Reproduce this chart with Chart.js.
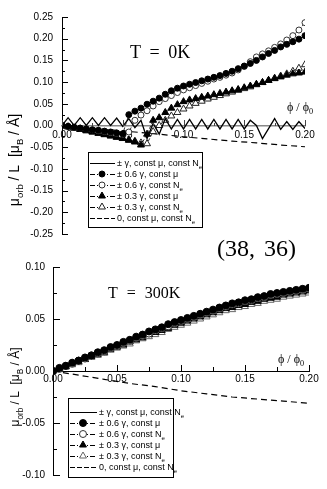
<!DOCTYPE html>
<html><head><meta charset="utf-8">
<script src="https://cdn.jsdelivr.net/npm/chart.js@4.4.1/dist/chart.umd.min.js"></script>
<style>
html,body{margin:0;padding:0;background:#fff;}
#wrap{position:relative;width:327px;height:489px;overflow:hidden;background:#fff;}
canvas{position:absolute;left:0;}
#c1{top:0;width:327px;height:265px;}
#c2{top:230px;width:327px;height:259px;}
</style></head><body>
<div id="wrap"><canvas id="c1" width="327" height="265"></canvas><canvas id="c2" width="327" height="259"></canvas></div>
<script>
// ---------- data ----------
const xFine = [0.000,0.005,0.010,0.015,0.020,0.025,0.030,0.035,0.040,0.045,0.050,0.055,0.060,0.065,0.070,0.075,0.080,0.085,0.090,0.095,0.100,0.105,0.110,0.115,0.120,0.125,0.130,0.135,0.140,0.145,0.150,0.155,0.160,0.165,0.170,0.175,0.180,0.185,0.190,0.195,0.200];
const xMid = [0.00,0.01,0.02,0.03,0.04,0.05,0.06,0.07,0.08,0.09,0.10,0.11,0.12,0.13,0.14,0.15,0.16,0.17,0.18,0.19,0.20];
const xCoarse = [0.00,0.02,0.04,0.06,0.08,0.10,0.12,0.14,0.16,0.18,0.20];

// T = 0K panel
const top_gamma_solid = [0.000,0.018,0.000,0.018,0.000,0.018,0.000,0.018,0.000,0.017,-0.002,0.016,-0.005,0.012,-0.030,0.005,-0.020,0.016,-0.008,0.014,-0.008,0.014,-0.008,0.014,-0.008,0.014,-0.008,0.014,-0.008,0.014,-0.008,0.012,0.000,-0.030,-0.007,0.016,-0.009,0.009,-0.009,0.009,-0.007];
const top_06_mu = [0.000,-0.002,-0.004,-0.006,-0.008,-0.010,-0.011,-0.013,-0.015,-0.017,-0.019,0.025,0.033,0.040,0.049,0.056,0.063,0.072,0.080,0.086,0.091,0.095,0.099,0.103,0.107,0.111,0.115,0.120,0.125,0.131,0.137,0.143,0.150,0.158,0.166,0.173,0.181,0.187,0.193,0.199,0.207];
const top_06_Ne = [0.000,-0.002,-0.004,-0.006,-0.008,-0.010,-0.012,-0.014,-0.016,-0.018,-0.020,-0.015,0.012,0.024,0.034,0.045,0.055,0.062,0.069,0.076,0.082,0.087,0.092,0.097,0.102,0.107,0.111,0.116,0.121,0.128,0.136,0.147,0.158,0.165,0.172,0.180,0.188,0.197,0.207,0.220,0.237];
const top_03_mu = [0.000,-0.003,-0.006,-0.009,-0.012,-0.015,-0.018,-0.021,-0.024,-0.027,-0.030,-0.034,-0.038,-0.045,-0.020,0.012,0.018,0.030,0.040,0.048,0.055,0.059,0.062,0.065,0.068,0.071,0.074,0.077,0.080,0.083,0.087,0.091,0.095,0.099,0.104,0.108,0.112,0.116,0.119,0.121,0.123];
const top_03_Ne = [0.000,-0.003,-0.006,-0.009,-0.012,-0.015,-0.018,-0.021,-0.024,-0.027,-0.030,-0.033,-0.036,-0.040,-0.042,-0.014,0.000,0.012,0.022,0.030,0.038,0.045,0.051,0.056,0.061,0.065,0.069,0.073,0.077,0.081,0.085,0.089,0.094,0.099,0.104,0.109,0.114,0.119,0.125,0.132,0.140];
const top_zero = [0.000,-0.005,-0.010,-0.015,-0.020,-0.026,-0.031,-0.036,-0.040,-0.045,-0.049];

// T = 300K panel
const bot_gamma_solid = [0.000,0.004,0.009,0.014,0.019,0.024,0.029,0.033,0.038,0.043,0.047,0.051,0.055,0.059,0.063,0.066,0.069,0.072,0.074,0.076,0.078];
const bot_06_mu = [0.000,0.003,0.005,0.008,0.010,0.013,0.015,0.018,0.020,0.023,0.025,0.028,0.030,0.033,0.035,0.038,0.040,0.042,0.045,0.047,0.049,0.051,0.053,0.055,0.057,0.059,0.061,0.063,0.065,0.066,0.068,0.069,0.071,0.072,0.074,0.075,0.076,0.077,0.078,0.079,0.080];
const bot_06_Ne = [0.000,0.002,0.005,0.007,0.010,0.012,0.015,0.017,0.019,0.022,0.024,0.027,0.029,0.032,0.034,0.036,0.039,0.041,0.043,0.046,0.048,0.050,0.052,0.054,0.056,0.058,0.060,0.062,0.064,0.065,0.067,0.068,0.070,0.071,0.073,0.074,0.075,0.076,0.077,0.078,0.079];
const bot_03_mu = [0.000,0.002,0.004,0.007,0.009,0.011,0.014,0.016,0.018,0.021,0.023,0.025,0.028,0.030,0.032,0.035,0.037,0.039,0.041,0.044,0.046,0.048,0.050,0.052,0.054,0.056,0.058,0.060,0.061,0.063,0.064,0.066,0.067,0.069,0.070,0.071,0.073,0.074,0.075,0.076,0.077];
const bot_03_Ne = [0.000,0.002,0.004,0.006,0.008,0.011,0.013,0.015,0.017,0.020,0.022,0.024,0.026,0.029,0.031,0.033,0.035,0.037,0.040,0.042,0.044,0.046,0.048,0.050,0.052,0.054,0.056,0.058,0.059,0.061,0.062,0.064,0.065,0.067,0.068,0.069,0.071,0.072,0.073,0.074,0.075];
const bot_zero = [0.000,-0.004,-0.008,-0.012,-0.015,-0.019,-0.022,-0.025,-0.027,-0.029,-0.031];

const xTickStep = 0.05;
const topYRange = [-0.25, 0.25];
const botYRange = [-0.10, 0.10];
const xRange = [0.00, 0.20];

const legendLabels = [
  [['\u00B1 \u03B3, const \u03BC, const N',0],['e',1]],
  [['\u00B1 0.6 \u03B3, const \u03BC',0]],
  [['\u00B1 0.6 \u03B3, const N',0],['e',1]],
  [['\u00B1 0.3 \u03B3, const \u03BC',0]],
  [['\u00B1 0.3 \u03B3, const N',0],['e',1]],
  [['0, const \u03BC, const N',0],['e',1]]
];
const yTitle = [['\u03BC',0],['orb',1],[' / L  [\u03BC',0],['B',1],[' / \u00C5]',0]];
const xTitle = [['\u03D5 / \u03D5',0],['0',1]];

// ---------- helpers ----------
const pts = (xs, ys) => ys.map((y, i) => ({x: xs[i], y}));
const fmt = v => (Math.abs(v) < 1e-9 ? 0 : v).toFixed(2);

function drawRich(ctx, tokens, x, y, o) {
  const sub = o.size * 0.68;
  const fm = `${o.weight||'normal'} ${o.size}px ${o.family}`;
  const fs = `${o.weight||'normal'} ${sub}px ${o.family}`;
  const hasWS = ('wordSpacing' in ctx);
  if (hasWS) ctx.wordSpacing = (o.ws||0) + 'px';
  let w = 0;
  tokens.forEach(([t,s]) => { ctx.font = s ? fs : fm; w += ctx.measureText(t).width; });
  let cx = o.align === 'center' ? x - w/2 : x;
  ctx.fillStyle = o.color || '#000';
  ctx.textAlign = 'left'; ctx.textBaseline = 'alphabetic';
  tokens.forEach(([t,s]) => {
    ctx.font = s ? fs : fm;
    ctx.fillText(t, cx, y + (s ? o.size*0.28 : 0));
    cx += ctx.measureText(t).width;
  });
  if (hasWS) ctx.wordSpacing = '0px';
}

function marker(ctx, style, r, x, y, fill, stroke) {
  ctx.save();
  ctx.beginPath();
  if (style === 'circle') ctx.arc(x, y, r, 0, Math.PI*2);
  else {
    let a = 0;
    ctx.moveTo(x + Math.sin(a)*r, y - Math.cos(a)*r); a += 2*Math.PI/3;
    ctx.lineTo(x + Math.sin(a)*r, y - Math.cos(a)*r); a += 2*Math.PI/3;
    ctx.lineTo(x + Math.sin(a)*r, y - Math.cos(a)*r);
    ctx.closePath();
  }
  ctx.fillStyle = fill; ctx.fill();
  ctx.lineWidth = 1; ctx.strokeStyle = stroke; ctx.stroke();
  ctx.restore();
}

const deco = {
  id: 'deco',
  afterDraw(chart, args, o) {
    const ctx = chart.ctx, ca = chart.chartArea;
    const xs = chart.scales.x, ys = chart.scales.y;
    ctx.save();
    ctx.strokeStyle = '#000'; ctx.lineWidth = 1;
    const yt = ys.ticks.map(t => t.value);
    ctx.beginPath();
    yt.forEach((v, i) => {
      const p = Math.round(ys.getPixelForValue(v)) + 0.5;
      ctx.moveTo(ca.left, p); ctx.lineTo(ca.left + o.yMajor, p);
      if (i < yt.length - 1) {
        const q = Math.round(ys.getPixelForValue((v + yt[i+1]) / 2)) + 0.5;
        ctx.moveTo(ca.left, q); ctx.lineTo(ca.left + o.yMinor, q);
      }
    });
    ctx.stroke();
    const y0 = Math.round(ys.getPixelForValue(0));
    const xt = xs.ticks.map(t => t.value);
    ctx.strokeStyle = o.xTickColor;
    ctx.beginPath();
    xt.forEach((v, i) => {
      const p = Math.round(xs.getPixelForValue(v)) + 0.5;
      ctx.moveTo(p, y0); ctx.lineTo(p, y0 - o.xMajor);
      if (i < xt.length - 1) {
        const q = Math.round(xs.getPixelForValue((v + xt[i+1]) / 2)) + 0.5;
        ctx.moveTo(q, y0); ctx.lineTo(q, y0 - o.xMinor);
      }
    });
    ctx.stroke();
    const L = o.legend;
    ctx.fillStyle = '#fff';
    ctx.fillRect(L.x, L.y, L.w, L.h);
    ctx.strokeStyle = '#000'; ctx.lineWidth = 1;
    ctx.strokeRect(L.x + 0.5, L.y + 0.5, L.w, L.h);
    const dsets = chart.data.datasets;
    legendLabels.forEach((tok, i) => {
      const ds = dsets.find(d => d.legendIndex === i);
      const ry = L.row0 + i * L.rowH;
      ctx.save();
      ctx.strokeStyle = '#000';
      ctx.lineWidth = 1;
      ctx.setLineDash(ds.legendDash || []);
      ctx.beginPath(); ctx.moveTo(L.l0, ry + 0.5); ctx.lineTo(L.l1, ry + 0.5); ctx.stroke();
      ctx.restore();
      if (ds.pointRadius > 0) marker(ctx, ds.pointStyle, ds.pointRadius, L.mx, ry, ds.pointBackgroundColor, ds.pointBorderColor);
      drawRich(ctx, tok, L.tx, ry + 3, {family: 'Liberation Sans', size: L.font});
    });
    o.texts.forEach(t => {
      if (t.rotate) {
        ctx.save(); ctx.translate(t.x, t.y); ctx.rotate(-Math.PI/2);
        drawRich(ctx, t.tokens, 0, t.size*0.36, {family: t.family, size: t.size, align: 'center', ws: t.ws});
        ctx.restore();
      } else {
        drawRich(ctx, t.tokens, t.x, t.y, {family: t.family, size: t.size, align: t.align || 'left', ws: t.ws, weight: t.weight});
      }
    });
    ctx.restore();
  }
};

function scales(yr, ywidth, ypad, xpad, xBorderColor, xBorderWidth) {
  return {
    x: {
      type: 'linear', min: xRange[0], max: xRange[1], position: {y: 0},
      afterFit: s => { s.height = 0; },
      grid: {display: false, drawTicks: false},
      border: {display: true, color: xBorderColor, width: xBorderWidth},
      ticks: {stepSize: xTickStep, autoSkip: false, maxRotation: 0, padding: xpad, color: '#000',
              font: {family: 'Liberation Sans', size: 10}, callback: v => fmt(v)}
    },
    y: {
      type: 'linear', min: yr[0], max: yr[1],
      afterFit: s => { s.width = ywidth; },
      grid: {display: false, drawTicks: false},
      border: {display: true, color: '#000', width: 1},
      ticks: {stepSize: 0.05, autoSkip: false, padding: ypad, color: '#000',
              font: {family: 'Liberation Sans', size: 10}, callback: v => fmt(v)}
    }
  };
}

function markerSet(label, xs, ys, style, r, fill, stroke, idx) {
  return {label, data: pts(xs, ys), legendIndex: idx, borderColor: '#000', borderWidth: 0.8,
    borderDash: [3, 2], legendDash: [5, 2, 1, 2], pointStyle: style, pointRadius: r, pointHoverRadius: r,
    pointBackgroundColor: fill, pointBorderColor: stroke, pointBorderWidth: 1, tension: 0, fill: false};
}

// ---------- T = 0K ----------
new Chart(document.getElementById('c1'), {
  type: 'line',
  data: {datasets: [
    {label: '\u00B1 \u03B3, const \u03BC, const Ne', data: pts(xFine, top_gamma_solid), legendIndex: 0,
     borderColor: '#000', borderWidth: 1.3, pointRadius: 0, tension: 0, fill: false},
    markerSet('\u00B1 0.6 \u03B3, const \u03BC', xFine, top_06_mu, 'circle', 3, '#000', '#000', 1),
    markerSet('\u00B1 0.6 \u03B3, const Ne', xFine, top_06_Ne, 'circle', 3, '#fff', '#333', 2),
    markerSet('\u00B1 0.3 \u03B3, const \u03BC', xFine, top_03_mu, 'triangle', 4, '#000', '#000', 3),
    markerSet('\u00B1 0.3 \u03B3, const Ne', xFine, top_03_Ne, 'triangle', 4, '#fff', '#222', 4),
    {label: '0, const \u03BC, const Ne', data: pts(xCoarse, top_zero), legendIndex: 5, borderColor: '#000',
     borderWidth: 1.2, borderDash: [6, 4], legendDash: [5, 2], pointRadius: 0, tension: 0, fill: false}
  ]},
  options: {
    responsive: false, animation: false, devicePixelRatio: 1,
    layout: {padding: {left: 0, right: 22, top: 17, bottom: 31}},
    scales: scales(topYRange, 62, 9, 4, '#888', 1.5),
    plugins: {legend: {display: false}, tooltip: {enabled: false},
      deco: {yMajor: 6, yMinor: 3, xMajor: 6, xMinor: 3, xTickColor: '#444',
        legend: {x: 88, y: 152, w: 114, h: 75, row0: 163, rowH: 11, l0: 90, l1: 115, mx: 102, tx: 117, font: 9},
        texts: [
          {tokens: [['T = 0K',0]], x: 130, y: 58, size: 18, family: 'Liberation Serif', ws: 4},
          {tokens: [['(38, 36)',0]], x: 217, y: 256, size: 24, family: 'Liberation Serif', ws: 3},
          {tokens: xTitle, x: 287, y: 111, size: 12, family: 'Liberation Serif'},
          {tokens: yTitle, x: 14, y: 160, size: 14, family: 'Liberation Sans', rotate: true, ws: 5}
        ]}}
  },
  plugins: [deco]
});

// ---------- T = 300K ----------
new Chart(document.getElementById('c2'), {
  type: 'line',
  data: {datasets: [
    markerSet('\u00B1 0.6 \u03B3, const \u03BC', xFine, bot_06_mu, 'circle', 3.5, '#000', '#000', 1),
    markerSet('\u00B1 0.6 \u03B3, const Ne', xFine, bot_06_Ne, 'circle', 3.5, '#fff', '#333', 2),
    markerSet('\u00B1 0.3 \u03B3, const \u03BC', xFine, bot_03_mu, 'triangle', 4, '#000', '#000', 3),
    markerSet('\u00B1 0.3 \u03B3, const Ne', xFine, bot_03_Ne, 'triangle', 4, '#fff', '#666', 4),
    {label: '\u00B1 \u03B3, const \u03BC, const Ne', data: pts(xMid, bot_gamma_solid), legendIndex: 0,
     borderColor: '#000', borderWidth: 1, pointRadius: 0, tension: 0, fill: false},
    {label: '0, const \u03BC, const Ne', data: pts(xCoarse, bot_zero), legendIndex: 5, borderColor: '#000',
     borderWidth: 1.2, borderDash: [6, 4], legendDash: [5, 2], pointRadius: 0, tension: 0, fill: false}
  ]},
  options: {
    responsive: false, animation: false, devicePixelRatio: 1,
    layout: {padding: {left: 0, right: 18, top: 37, bottom: 11}},
    scales: scales(botYRange, 53, 8, 2, '#000', 1),
    plugins: {legend: {display: false}, tooltip: {enabled: false},
      deco: {yMajor: 7, yMinor: 4, xMajor: 6, xMinor: 4, xTickColor: '#000',
        legend: {x: 68, y: 168, w: 105, h: 79, row0: 182, rowH: 11, l0: 70, l1: 97, mx: 83, tx: 99, font: 9},
        texts: [
          {tokens: [['T = 300K',0]], x: 108, y: 68, size: 16, family: 'Liberation Serif', ws: 5},
          {tokens: xTitle, x: 278, y: 133, size: 12, family: 'Liberation Serif'},
          {tokens: yTitle, x: 15, y: 157, size: 12, family: 'Liberation Sans', rotate: true, ws: 2}
        ]}}
  },
  plugins: [deco]
});
</script>
</body></html>
